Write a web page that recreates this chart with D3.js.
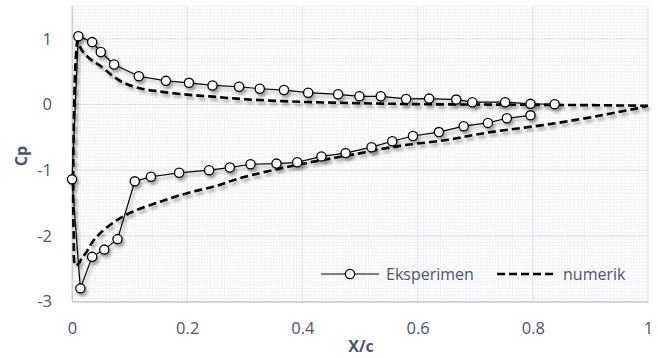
<!DOCTYPE html>
<html>
<head>
<meta charset="utf-8">
<script src="https://cdn.jsdelivr.net/npm/d3@7"></script>
<style>
  body { margin: 0; background: #fff; }
  svg text { font-family: "Open Sans", "Noto Sans", sans-serif; fill: #4a5670; }
</style>
</head>
<body>
<div class="chart"></div>
<script>
// experimental: upper surface (trailing edge -> nose), then lower surface (nose -> trailing edge)
let expX = [0.838, 0.796, 0.752, 0.695, 0.667, 0.62, 0.58, 0.536, 0.499, 0.462, 0.41, 0.368, 0.326, 0.29, 0.244, 0.203, 0.163, 0.116, 0.073, 0.05, 0.035, 0.011,
            0.0, 0.0145, 0.035, 0.056, 0.079, 0.109, 0.137, 0.186, 0.238, 0.274, 0.31, 0.355, 0.391, 0.433, 0.475, 0.52, 0.556, 0.592, 0.637, 0.68, 0.722, 0.755, 0.796]
let expCp = [0.005, 0.01, 0.035, 0.035, 0.075, 0.09, 0.085, 0.125, 0.125, 0.155, 0.18, 0.22, 0.24, 0.27, 0.29, 0.33, 0.36, 0.43, 0.61, 0.80, 0.95, 1.04,
             -1.14, -2.80, -2.32, -2.21, -2.05, -1.17, -1.10, -1.04, -1.00, -0.96, -0.91, -0.90, -0.88, -0.79, -0.74, -0.65, -0.56, -0.48, -0.42, -0.33, -0.28, -0.21, -0.165]

// numerical: same ordering, trailing edge -> nose -> trailing edge
let numX = [1.0, 0.9, 0.8, 0.7, 0.6, 0.5, 0.4, 0.3, 0.245, 0.2, 0.15, 0.116, 0.09, 0.07, 0.049, 0.035, 0.023, 0.015, 0.01, 0.006, 0.003, 0.002, 0.003, 0.006,
            0.012, 0.017, 0.025, 0.035, 0.049, 0.078, 0.106, 0.153, 0.2, 0.25, 0.292, 0.396, 0.483, 0.569, 0.65, 0.72, 0.836, 0.922, 0.98, 1.0]
let numCp = [-0.02, -0.01, -0.005, 0.0, 0.005, 0.02, 0.04, 0.08, 0.12, 0.15, 0.2, 0.25, 0.33, 0.44, 0.59, 0.67, 0.76, 0.86, 0.97, 0.6, -0.4, -1.2, -2.0, -2.45,
             -2.42, -2.34, -2.25, -2.1, -1.96, -1.76, -1.63, -1.48, -1.35, -1.24, -1.12, -0.91, -0.77, -0.63, -0.54, -0.43, -0.29, -0.16, -0.06, -0.02]

let xTicks = [0, 0.2, 0.4, 0.6, 0.8, 1]
let yTicks = [-3, -2, -1, 0, 1]
let seriesNames = ["Eksperimen", "numerik"]

let width = 658, height = 358
let margin = { top: 6, right: 10, bottom: 56, left: 72 }
let w = 648 - margin.left
let h = 301.5 - margin.top

let svg = d3.select('.chart')
  .append('svg')
    .attr('width', width)
    .attr('height', height)

let defs = svg.append('defs')
let shadow = defs.append('filter').attr('id', 'shadow')
  .attr('x', '-10%').attr('y', '-10%').attr('width', '130%').attr('height', '130%')
shadow.append('feDropShadow')
  .attr('dx', 2).attr('dy', 3).attr('stdDeviation', 1.6)
  .attr('flood-color', '#000').attr('flood-opacity', 0.35)

let g = svg.append('g')
  .attr('transform', `translate(${margin.left}, ${margin.top})`)

let xScale = d3.scaleLinear().domain([0, 1]).range([0, w])
let yScale = d3.scaleLinear().domain([-3, 1.5]).range([h, 0])

// minor grid
g.append('g')
  .selectAll('line')
  .data(d3.range(0, 1.0001, 0.005))
  .enter().append('line')
    .attr('x1', d => xScale(d)).attr('x2', d => xScale(d))
    .attr('y1', 0).attr('y2', h)
    .style('stroke', '#eceff3').style('stroke-width', 0.75)
g.append('g')
  .selectAll('line')
  .data(d3.range(-3, 1.5001, 0.05))
  .enter().append('line')
    .attr('x1', 0).attr('x2', w)
    .attr('y1', d => yScale(d)).attr('y2', d => yScale(d))
    .style('stroke', '#eceff3').style('stroke-width', 0.75)

// major grid
g.append('g')
  .selectAll('line')
  .data(xTicks)
  .enter().append('line')
    .attr('x1', d => xScale(d)).attr('x2', d => xScale(d))
    .attr('y1', 0).attr('y2', h)
    .style('stroke', '#dce2ea').style('stroke-width', 1)
g.append('g')
  .selectAll('line')
  .data(yTicks)
  .enter().append('line')
    .attr('x1', 0).attr('x2', w)
    .attr('y1', d => yScale(d)).attr('y2', d => yScale(d))
    .style('stroke', '#dce2ea').style('stroke-width', 1)

// axes
let xAxis = d3.axisBottom(xScale).tickValues(xTicks).tickSize(0).tickPadding(21)
  .tickFormat(d => String(d))
let gx = g.append('g')
  .attr('transform', `translate(0, ${h})`)
  .call(xAxis)
gx.select('.domain').style('stroke', '#c4ccd8').style('stroke-width', 1.3)
gx.selectAll('text').style('font-size', '16.5px').style('fill', '#4a5670')

let yAxis = d3.axisLeft(yScale).tickValues(yTicks).tickSize(0).tickPadding(20)
  .tickFormat(d => String(d))
let gy = g.append('g').call(yAxis)
gy.select('.domain').style('stroke', '#c4ccd8').style('stroke-width', 1.3)
gy.selectAll('text').style('font-size', '16.5px').style('fill', '#4a5670')

// axis titles
svg.append('text')
  .attr('transform', 'translate(27, 156) rotate(-90)')
  .attr('text-anchor', 'middle')
  .style('font-size', '16px').style('font-weight', 'bold')
  .text('Cp')
svg.append('text')
  .attr('x', 361).attr('y', 352)
  .attr('text-anchor', 'middle')
  .style('font-size', '16px').style('font-weight', 'bold')
  .text('X/c')

// series
let numLine = d3.line()
  .x(d => xScale(d[0]))
  .y(d => yScale(d[1]))
  .curve(d3.curveCatmullRom.alpha(0.5))
let expLine = d3.line()
  .x(d => xScale(d[0]))
  .y(d => yScale(d[1]))

let numData = numX.map((x, i) => [x, numCp[i]])
let expData = expX.map((x, i) => [x, expCp[i]])

g.append('path')
  .datum(numData)
  .attr('d', numLine)
  .attr('filter', 'url(#shadow)')
  .style('fill', 'none')
  .style('stroke', '#000')
  .style('stroke-width', 2.6)
  .style('stroke-dasharray', '8,4')

let expG = g.append('g').attr('filter', 'url(#shadow)')
expG.append('path')
  .datum(expData)
  .attr('d', expLine)
  .style('fill', 'none')
  .style('stroke', '#000')
  .style('stroke-width', 1.2)
expG.selectAll('circle')
  .data(expData)
  .enter().append('circle')
    .attr('cx', d => xScale(d[0]))
    .attr('cy', d => yScale(d[1]))
    .attr('r', 4.6)
    .style('fill', '#fff')
    .style('stroke', '#000')
    .style('stroke-width', 1.3)

// legend
let leg = svg.append('g')
leg.append('line')
  .attr('x1', 321).attr('x2', 379).attr('y1', 274).attr('y2', 274)
  .style('stroke', '#000').style('stroke-width', 1.2)
leg.append('circle')
  .attr('cx', 350).attr('cy', 274).attr('r', 4.6)
  .style('fill', '#fff').style('stroke', '#000').style('stroke-width', 1.3)
leg.append('text')
  .attr('x', 386).attr('y', 280)
  .style('font-size', '16px')
  .text(seriesNames[0])
leg.append('line')
  .attr('x1', 497).attr('x2', 553).attr('y1', 274).attr('y2', 274)
  .style('stroke', '#000').style('stroke-width', 2.6)
  .style('stroke-dasharray', '8,4')
leg.append('text')
  .attr('x', 563).attr('y', 280)
  .style('font-size', '16px')
  .text(seriesNames[1])
</script>
</body>
</html>
